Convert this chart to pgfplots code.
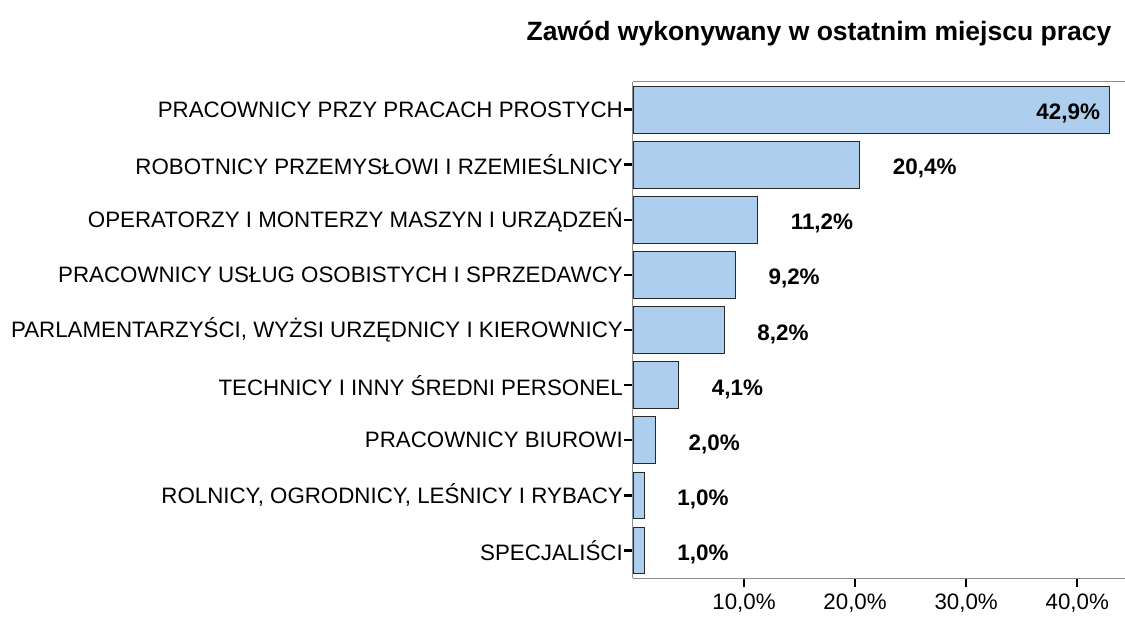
\documentclass[border=0pt]{standalone}
\usepackage{fontspec}
\setmainfont{Liberation Sans}
\usepackage{pgfplots}
\pgfplotsset{compat=1.18}
\definecolor{barfill}{RGB}{173,207,237}
\definecolor{baredge}{RGB}{40,40,40}
\definecolor{axgray}{RGB}{140,140,140}
\begin{document}
\begin{tikzpicture}[x=1bp,y=1bp]
\path[use as bounding box] (-633,-39) rectangle (492,578);
\begin{axis}[
  at={(0,0)}, anchor=south west,
  scale only axis, width=492bp, height=496bp,
  xbar, bar shift=0pt, bar width=0.85,
  xmin=0, xmax=44.3, ymin=-0.5, ymax=8.5, y dir=reverse,
  axis x line*=box, axis y line*=left,
  axis line style={axgray, line width=1bp},
  xtick={10,20,30,40},
  xticklabels={{10,0\%},{20,0\%},{30,0\%},{40,0\%}},
  ytick={0,...,8},
  yticklabels={
    PRACOWNICY PRZY PRACACH PROSTYCH,
    ROBOTNICY PRZEMYSŁOWI I RZEMIEŚLNICY,
    OPERATORZY I MONTERZY MASZYN I URZĄDZEŃ,
    PRACOWNICY USŁUG OSOBISTYCH I SPRZEDAWCY,
    {PARLAMENTARZYŚCI, WYŻSI URZĘDNICY I KIEROWNICY},
    TECHNICY I INNY ŚREDNI PERSONEL,
    PRACOWNICY BIUROWI,
    {ROLNICY, OGRODNICY, LEŚNICY I RYBACY},
    SPECJALIŚCI},
  xtick pos=bottom, ytick pos=left,
  tick align=outside, major tick length=9bp,
  tick style={black, line width=2.5bp},
  ticklabel style={font=\fontsize{22.4}{24}\selectfont, inner sep=1bp},
  xticklabel style={yshift=-6bp},
  /pgf/number format/assume math mode=true,
  nodes near coords={\pgfmathprintnumber[fixed,fixed zerofill,precision=1,use comma]{\pgfplotspointmeta}\%},
  every node near coord/.append style={font=\bfseries\fontsize{22.5}{24}\selectfont, black, inner sep=0pt, yshift=-4bp},
]
\addplot[fill=barfill, draw=baredge, line width=0.8bp,
  every node near coord/.append style={anchor=east, xshift=-9bp}]
  coordinates {(42.9,0)};
\addplot[fill=barfill, draw=baredge, line width=0.8bp,
  every node near coord/.append style={anchor=west, xshift=33bp}]
  coordinates {(20.4,1) (11.2,2) (9.2,3) (8.2,4) (4.1,5) (2.0,6) (1.0,7) (1.0,8)};
\end{axis}
\node[font=\bfseries\fontsize{26.6}{30}\selectfont] at (186,544) {Zawód wykonywany w ostatnim miejscu pracy};
\end{tikzpicture}
\end{document}
